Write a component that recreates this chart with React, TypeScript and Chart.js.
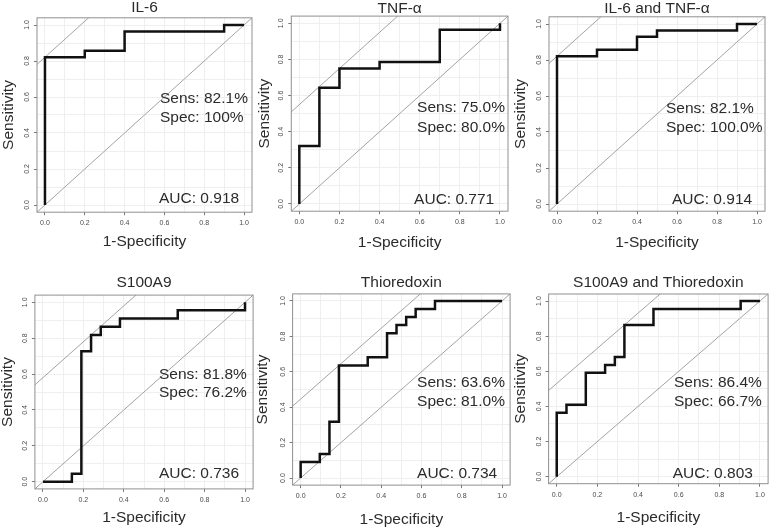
import React, { useEffect, useRef } from 'react';
import { Chart, registerables } from 'chart.js';

Chart.register(...registerables);

// ---------- data ----------
const tickValues = [0, 0.1, 0.2, 0.3, 0.4, 0.5, 0.6, 0.7, 0.8, 0.9, 1.0];
const tickLabels = ['0.0', '', '0.2', '', '0.4', '', '0.6', '', '0.8', '', '1.0'];

const titles = ['IL-6', 'TNF-α', 'IL-6 and TNF-α', 'S100A9', 'Thioredoxin', 'S100A9 and Thioredoxin'];

const il6FPR = [0, 0, 0.2, 0.2, 0.4, 0.4, 0.9, 0.9, 1];
const il6TPR = [0, 0.821, 0.821, 0.857, 0.857, 0.964, 0.964, 1, 1];

const tnfFPR = [0, 0, 0.1, 0.1, 0.2, 0.2, 0.4, 0.4, 0.7, 0.7, 1, 1];
const tnfTPR = [0, 0.321, 0.321, 0.643, 0.643, 0.75, 0.75, 0.786, 0.786, 0.964, 0.964, 1];

const il6TnfFPR = [0, 0, 0.2, 0.2, 0.4, 0.4, 0.5, 0.5, 0.9, 0.9, 1];
const il6TnfTPR = [0, 0.821, 0.821, 0.857, 0.857, 0.929, 0.929, 0.964, 0.964, 1, 1];

const s100FPR = [0, 0.143, 0.143, 0.19, 0.19, 0.238, 0.238, 0.286, 0.286, 0.381, 0.381, 0.667, 0.667, 1, 1];
const s100TPR = [0, 0, 0.045, 0.045, 0.727, 0.727, 0.818, 0.818, 0.864, 0.864, 0.909, 0.909, 0.955, 0.955, 1];

const trxFPR = [0, 0, 0.095, 0.095, 0.143, 0.143, 0.19, 0.19, 0.333, 0.333, 0.429, 0.429, 0.476, 0.476, 0.524, 0.524, 0.571, 0.571, 0.667, 0.667, 1];
const trxTPR = [0, 0.091, 0.091, 0.136, 0.136, 0.318, 0.318, 0.636, 0.636, 0.682, 0.682, 0.818, 0.818, 0.864, 0.864, 0.909, 0.909, 0.955, 0.955, 1, 1];

const s100TrxFPR = [0, 0, 0.048, 0.048, 0.143, 0.143, 0.238, 0.238, 0.286, 0.286, 0.333, 0.333, 0.476, 0.476, 0.905, 0.905, 1];
const s100TrxTPR = [0, 0.364, 0.364, 0.409, 0.409, 0.591, 0.591, 0.636, 0.636, 0.682, 0.682, 0.864, 0.864, 0.955, 0.955, 1, 1];

const fprSeries = [il6FPR, tnfFPR, il6TnfFPR, s100FPR, trxFPR, s100TrxFPR];
const tprSeries = [il6TPR, tnfTPR, il6TnfTPR, s100TPR, trxTPR, s100TrxTPR];

const sensLabels = ['82.1%', '75.0%', '82.1%', '81.8%', '63.6%', '86.4%'];
const specLabels = ['100%', '80.0%', '100.0%', '76.2%', '81.0%', '66.7%'];
const aucLabels = ['0.918', '0.771', '0.914', '0.736', '0.734', '0.803'];

// best cut-off point (sensitivity, 1 - specificity) for the tangent line
const cutSens = [0.821, 0.75, 0.821, 0.818, 0.636, 0.864];
const cutFPR = [0, 0.2, 0, 0.238, 0.19, 0.333];

// ---------- layout (page coords) ----------
const layouts = [
  { cx: 0, cy: 0, w: 257, h: 256, L: 37.0, T: 17.8, R: 252.0, B: 212.2, titleY: 8, xTitleY: 242, yTitleX: 8.3, tx: 0.578, sensY: 0.589, specY: 0.483, aucX: 0.573, aucY: 0.033 },
  { cx: 257, cy: 0, w: 257, h: 256, L: 291.3, T: 16.1, R: 508.0, B: 211.2, titleY: 8.3, xTitleY: 243, yTitleX: 265, tx: 0.587, sensY: 0.531, specY: 0.42, aucX: 0.572, aucY: 0.022 },
  { cx: 514, cy: 0, w: 257, h: 256, L: 549.0, T: 16.8, R: 765.0, B: 211.2, titleY: 8.3, xTitleY: 243, yTitleX: 521, tx: 0.545, sensY: 0.528, specY: 0.422, aucX: 0.575, aucY: 0.022 },
  { cx: 0, cy: 264, w: 257, h: 264, L: 34.9, T: 295.1, R: 253.1, B: 488.9, titleY: 283, xTitleY: 518, yTitleX: 7.3, tx: 0.574, sensY: 0.595, specY: 0.494, aucX: 0.574, aucY: 0.043 },
  { cx: 257, cy: 264, w: 257, h: 264, L: 292.6, T: 293.9, R: 510.1, B: 485.1, titleY: 283, xTitleY: 520, yTitleX: 263, tx: 0.578, sensY: 0.537, specY: 0.429, aucX: 0.578, aucY: 0.023 },
  { cx: 514, cy: 264, w: 257, h: 264, L: 548.6, T: 294.0, R: 768.1, B: 483.7, titleY: 283, xTitleY: 518, yTitleX: 521, tx: 0.577, sensY: 0.533, specY: 0.426, aucX: 0.571, aucY: 0.015 },
];

const FONT = '"Liberation Sans", Arial, sans-serif';
const BIG = 15.5;
const TEXT_COLOR = '#2b2b2b';

const decorPlugin = {
  id: 'panelDecor',
  afterDraw(chart: any, _args: any, opts: any) {
    const { ctx, chartArea: a, scales } = chart;
    ctx.save();
    // box
    ctx.strokeStyle = '#909090';
    ctx.lineWidth = 1;
    ctx.strokeRect(a.left, a.top, a.right - a.left, a.bottom - a.top);
    // title
    ctx.fillStyle = TEXT_COLOR;
    ctx.font = `${BIG}px ${FONT}`;
    ctx.textAlign = 'center';
    ctx.textBaseline = 'middle';
    ctx.fillText(opts.title, (a.left + a.right) / 2, opts.titleY);
    // annotations
    ctx.textAlign = 'left';
    const x = scales.x, y = scales.y;
    ctx.fillText(`Sens: ${opts.sens}`, x.getPixelForValue(opts.tx), y.getPixelForValue(opts.sensY));
    ctx.fillText(`Spec: ${opts.spec}`, x.getPixelForValue(opts.tx), y.getPixelForValue(opts.specY));
    ctx.fillText(`AUC: ${opts.auc}`, x.getPixelForValue(opts.aucX), y.getPixelForValue(opts.aucY));
    ctx.restore();
  },
};

function Panel({ idx }: { idx: number }) {
  const ref = useRef<HTMLCanvasElement>(null);
  const lay = layouts[idx];
  useEffect(() => {
    if (!ref.current) return;
    const yAxisW = lay.L - lay.cx;
    const xAxisH = lay.cy + lay.h - lay.B;
    const titleLH = BIG; // lineHeight 1
    const curve = fprSeries[idx].map((fx, i) => ({ x: fx, y: tprSeries[idx][i] }));
    const icpt = cutSens[idx] - cutFPR[idx];
    const diag = [{ x: -0.1, y: -0.1 }, { x: 1.1, y: 1.1 }];
    const tangent = [{ x: -0.1, y: -0.1 + icpt }, { x: 1.1, y: 1.1 + icpt }];
    const tickCfg = (rot: boolean) => ({
      autoSkip: false,
      minRotation: rot ? 90 : 0,
      maxRotation: rot ? 90 : 0,
      crossAlign: rot ? 'center' : 'near',
      padding: rot ? 2 : 4,
      color: '#4a4a4a',
      font: { size: 7, family: FONT },
      callback: (_v: any, i: number) => tickLabels[i],
    });
    const gridCfg = {
      color: '#efefef',
      lineWidth: 1,
      drawTicks: true,
      tickLength: 3,
      tickColor: (c: any) => (c.tick && tickLabels[c.index] ? '#777' : 'rgba(0,0,0,0)'),
    };
    const setTicks = (s: any) => {
      s.ticks = tickValues.map((v) => ({ value: v }));
    };
    const chart = new Chart(ref.current, {
      type: 'line',
      data: {
        datasets: [
          { data: curve, borderColor: '#111', borderWidth: 2.5, pointRadius: 0, tension: 0, fill: false, order: 0, clip: 0 } as any,
          { data: diag, borderColor: '#a3a3a3', borderWidth: 1, pointRadius: 0, tension: 0, fill: false, order: 1, clip: 0 } as any,
          { data: tangent, borderColor: '#a3a3a3', borderWidth: 1, pointRadius: 0, tension: 0, fill: false, order: 2, clip: 0 } as any,
        ],
      },
      options: {
        animation: false,
        responsive: false,
        devicePixelRatio: 1,
        events: [],
        layout: {
          padding: {
            left: 0,
            top: lay.T - lay.cy,
            right: lay.cx + lay.w - lay.R,
            bottom: 0,
          },
        },
        plugins: {
          legend: { display: false },
          tooltip: { enabled: false },
          title: { display: false },
          panelDecor: {
            title: titles[idx],
            titleY: lay.titleY - lay.cy,
            sens: sensLabels[idx],
            spec: specLabels[idx],
            auc: aucLabels[idx],
            tx: lay.tx,
            sensY: lay.sensY,
            specY: lay.specY,
            aucX: lay.aucX,
            aucY: lay.aucY,
          },
        } as any,
        scales: {
          x: {
            type: 'linear',
            min: -0.04,
            max: 1.04,
            bounds: 'data',
            afterBuildTicks: setTicks,
            afterFit: (s: any) => {
              s.height = xAxisH;
              s.paddingLeft = 0; s.paddingRight = 0; s.paddingTop = 0; s.paddingBottom = 0;
            },
            ticks: tickCfg(false) as any,
            grid: gridCfg as any,
            border: { display: false },
            title: {
              display: true,
              text: '1-Specificity',
              color: TEXT_COLOR,
              font: { size: BIG, family: FONT, lineHeight: 1 },
              padding: { top: 0, bottom: lay.cy + lay.h - titleLH / 2 - lay.xTitleY },
            },
          },
          y: {
            type: 'linear',
            min: -0.04,
            max: 1.04,
            bounds: 'data',
            afterBuildTicks: setTicks,
            afterFit: (s: any) => {
              s.width = yAxisW;
              s.paddingLeft = 0; s.paddingRight = 0; s.paddingTop = 0; s.paddingBottom = 0;
            },
            ticks: tickCfg(true) as any,
            grid: gridCfg as any,
            border: { display: false },
            title: {
              display: true,
              text: 'Sensitivity',
              color: TEXT_COLOR,
              font: { size: BIG, family: FONT, lineHeight: 1 },
              padding: { top: lay.yTitleX - lay.cx - titleLH / 2, bottom: 0 },
            },
          },
        },
      } as any,
      plugins: [decorPlugin],
    });
    return () => chart.destroy();
  }, [idx]);
  return (
    <canvas
      ref={ref}
      width={lay.w}
      height={lay.h}
      style={{ position: 'absolute', left: lay.cx, top: lay.cy, width: lay.w, height: lay.h, display: 'block' }}
    />
  );
}

export default function App() {
  return (
    <div style={{ position: 'fixed', left: 0, top: 0, width: 771, height: 528, background: '#fff', overflow: 'hidden' }}>
      {titles.map((_, i) => (
        <Panel key={i} idx={i} />
      ))}
    </div>
  );
}
